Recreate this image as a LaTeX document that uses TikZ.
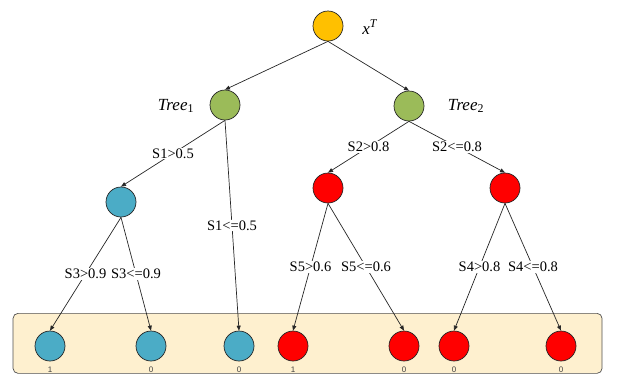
\documentclass[tikz,border=0pt]{standalone}
\usepackage{fontspec}
\setmainfont{Liberation Serif}
\newfontfamily\leaffont{Liberation Sans}
\usetikzlibrary{arrows.meta}
\definecolor{cyellow}{HTML}{FFC000}
\definecolor{cgreen}{HTML}{9BBB59}
\definecolor{cblue}{HTML}{4BACC6}
\definecolor{cred}{HTML}{FF0000}
\definecolor{cbox}{HTML}{FEF0CF}
\definecolor{cboxline}{HTML}{505050}
\definecolor{cedge}{HTML}{262626}
\tikzset{
  nd/.style={circle, draw=black!85, line width=0.7pt, minimum size=30pt, inner sep=0pt},
  yel/.style={nd, fill=cyellow},
  grn/.style={nd, fill=cgreen},
  blu/.style={nd, fill=cblue},
  rd/.style={nd, fill=cred},
  edge/.style={draw=cedge, line width=0.7pt, -{Triangle[length=5pt,width=4pt]}},
  cond/.style={fill=white, inner sep=1pt, font=\fontsize{14.5}{14.5}\selectfont, pos=0.5},
  lbl/.style={font=\fontsize{17}{17}\selectfont},
  leaflbl/.style={font=\leaffont\fontsize{8}{8}\selectfont, text=black!75, inner sep=0pt},
  panel/.style={draw=cboxline, fill=cbox, line width=0.7pt, rounded corners=5pt}
}
\begin{document}
\begin{tikzpicture}[x=1pt, y=-1pt]
\useasboundingbox (0,0) rectangle (618,381);
\node[panel, minimum width=589pt, minimum height=60pt, anchor=north west] (panel) at (12.7,313) {};
% internal nodes
\node[yel] (root) at (328,26) {};
\node[lbl] (xt) at (370,27) {\textit{x}\textsuperscript{\textit{T}}};
\node[grn] (t1) at (225,105) {};
\node[lbl] (t1l) at (176,106) {\textit{Tree}\textsubscript{1}};
\node[grn] (t2) at (409,106) {};
\node[lbl] (t2l) at (466,106) {\textit{Tree}\textsubscript{2}};
\node[blu] (b1) at (121,202) {};
\node[rd] (r1) at (328,188) {};
\node[rd] (r2) at (505,188) {};
% leaves
\node[blu] (l1) at (50,346) {};
\node[blu] (l2) at (151,346) {};
\node[blu] (l3) at (239,346) {};
\node[rd] (l4) at (293,346) {};
\node[rd] (l5) at (404,346) {};
\node[rd] (l6) at (454,346) {};
\node[rd] (l7) at (561,346) {};
\foreach \n/\v in {l1/1,l2/0,l3/0,l4/1,l5/0,l6/0,l7/0}{
  \node[leaflbl] (\n v) at ([yshift=-8pt]\n.south) {\v};
}
% edges
\draw[edge] (root.south) -- (t1.north);
\draw[edge] (root.south) -- (t2.north);
\draw[edge] (t1.south) -- node[cond] {S1>0.5} (b1.north);
\draw[edge] (t1.south) -- node[cond] {S1<=0.5} (l3.north);
\draw[edge] (t2.south) -- node[cond] {S2>0.8} (r1.north);
\draw[edge] (t2.south) -- node[cond] {S2<=0.8} (r2.north);
\draw[edge] (b1.south) -- node[cond] {S3>0.9} (l1.north);
\draw[edge] (b1.south) -- node[cond] {S3<=0.9} (l2.north);
\draw[edge] (r1.south) -- node[cond] {S5>0.6} (l4.north);
\draw[edge] (r1.south) -- node[cond] {S5<=0.6} (l5.north);
\draw[edge] (r2.south) -- node[cond] {S4>0.8} (l6.north);
\draw[edge] (r2.south) -- node[cond] {S4<=0.8} (l7.north);
\end{tikzpicture}
\end{document}
